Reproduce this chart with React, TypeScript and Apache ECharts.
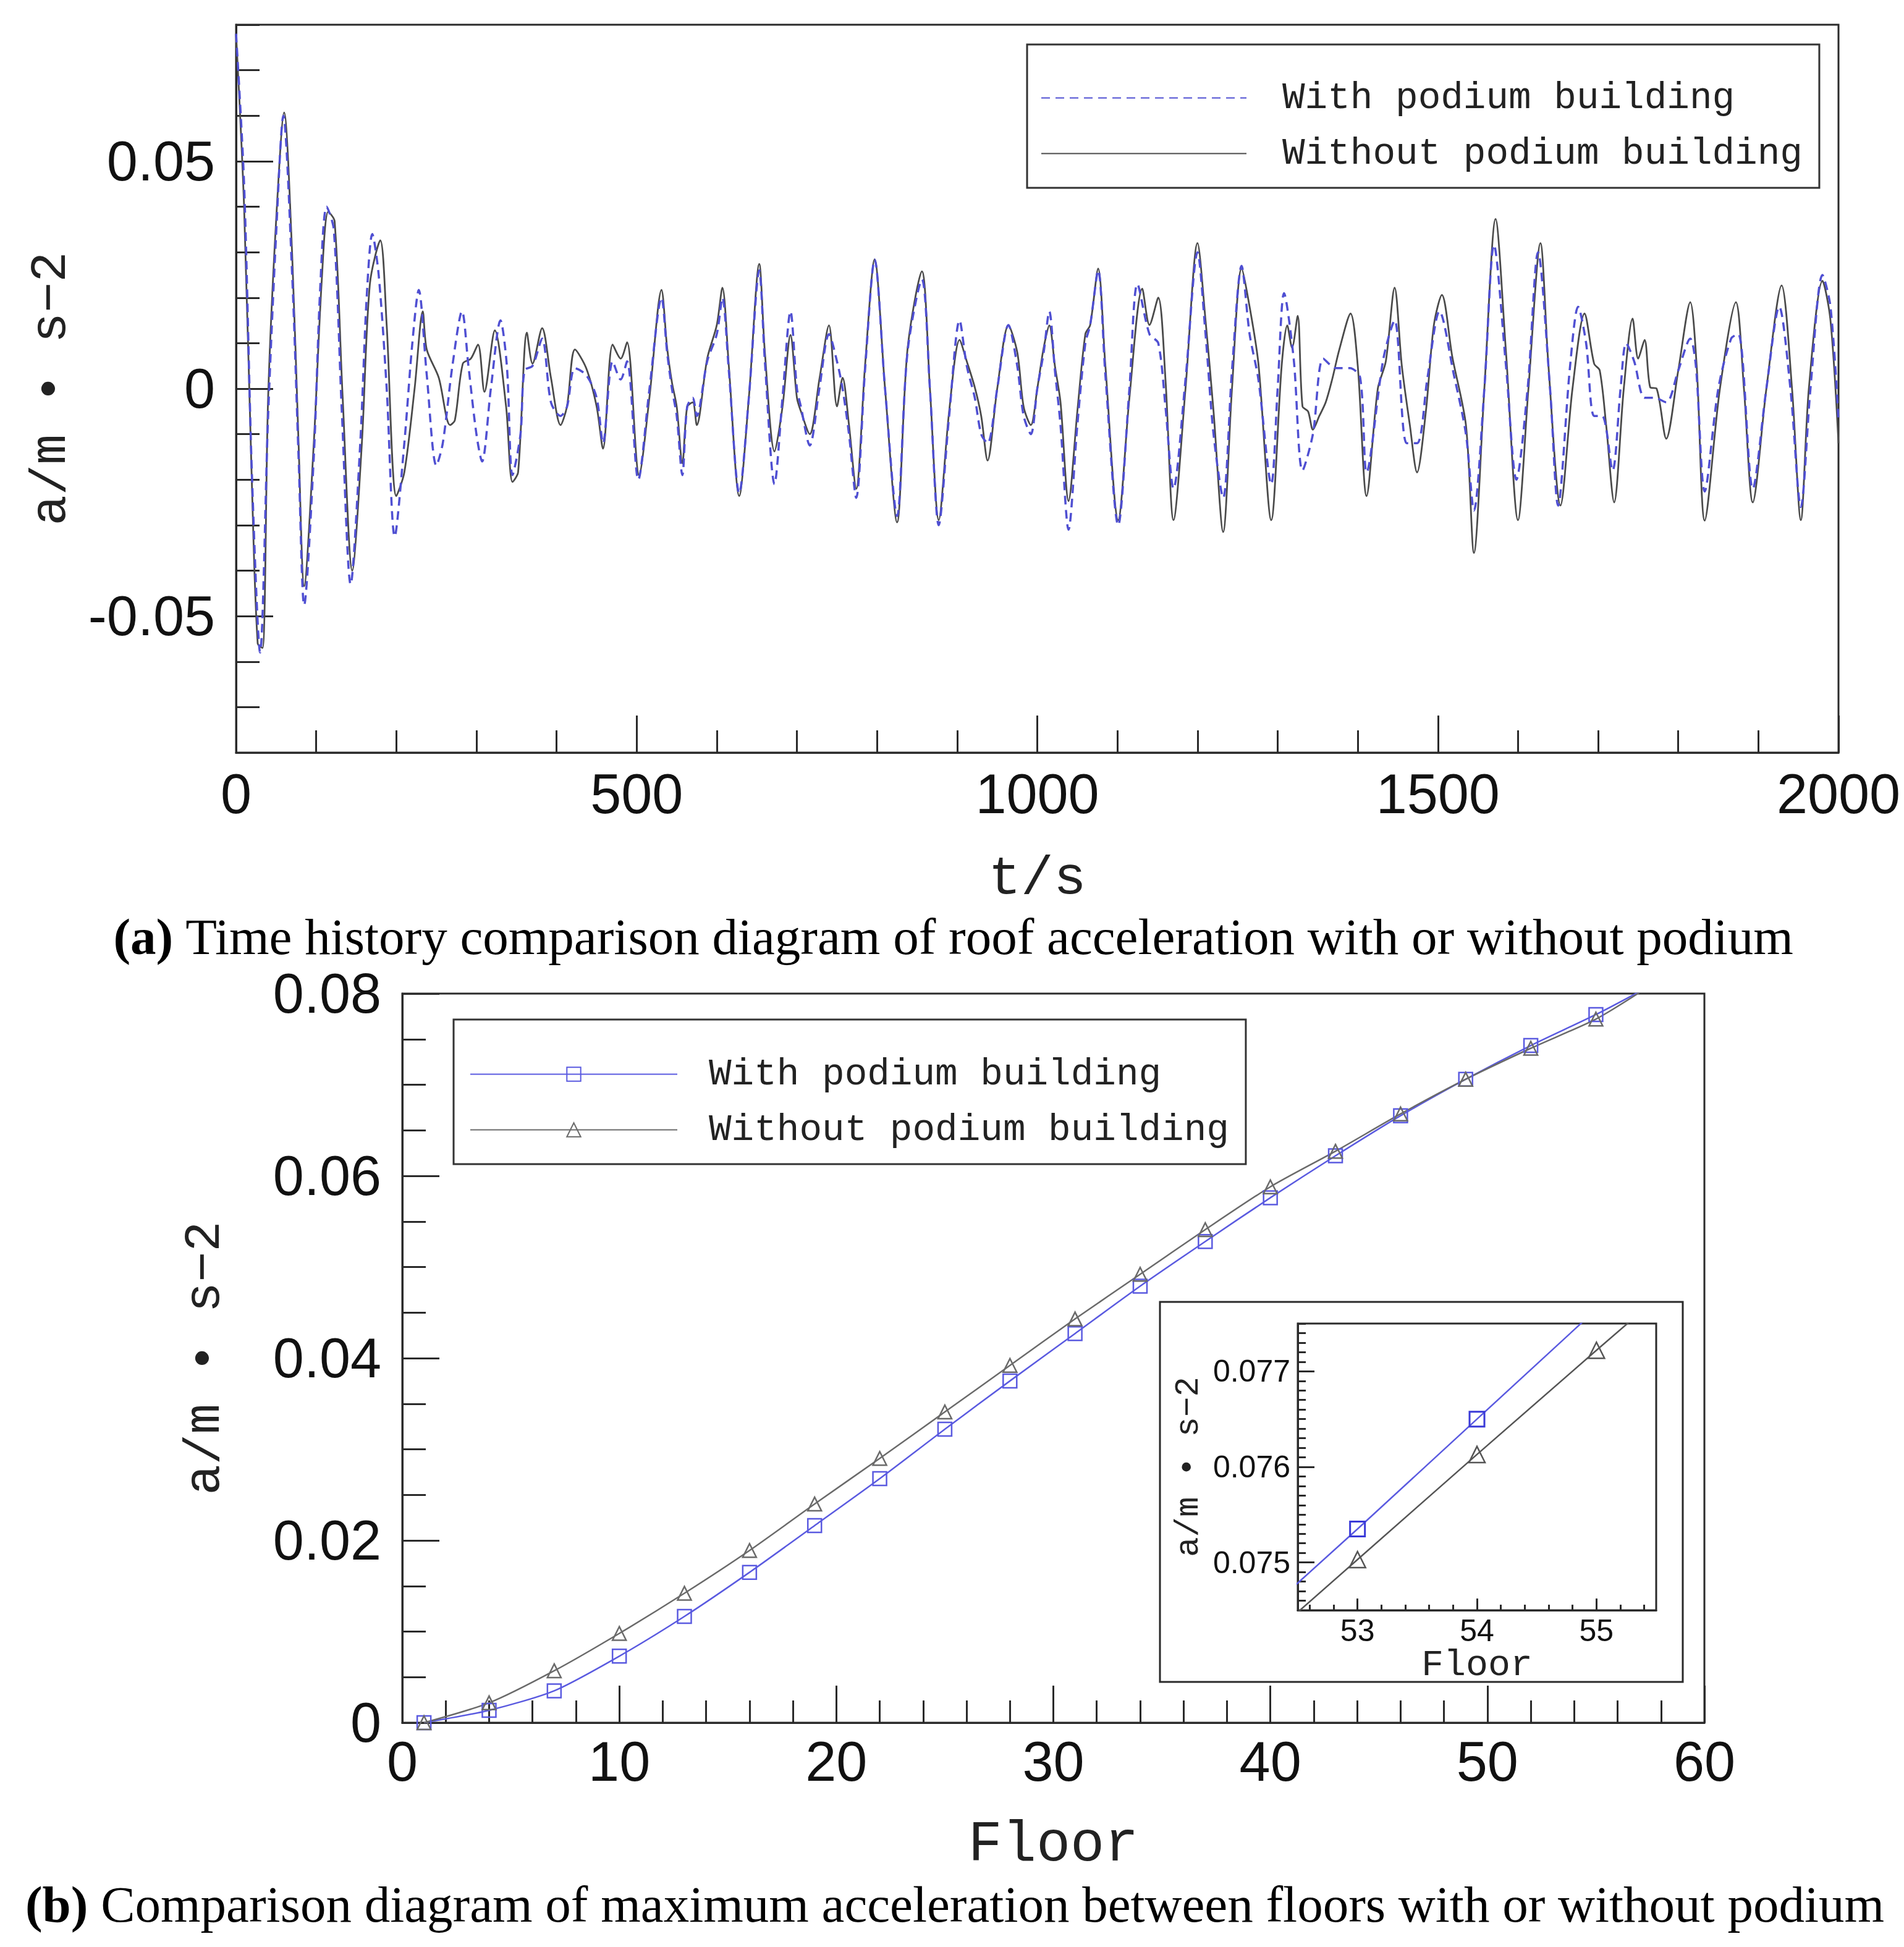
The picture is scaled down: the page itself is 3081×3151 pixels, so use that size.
import React, { useEffect, useRef } from 'react';
import * as echarts from 'echarts';

// ---------- (a) roof acceleration time history: [t (s), a (m/s^2)] ----------
const withoutPodiumHistory: [number, number][] = [
  [0, 0.078], [10, 0.04], [20, -0.0226], [27, -0.056], [33, -0.057], [40, -0.002], [50, 0.037], [60, 0.0607],
  [70, 0.0295], [78, -0.012], [85, -0.0434], [97, -0.012], [107, 0.024], [115, 0.0389], [123, 0.0368], [133, -0.0018],
  [145, -0.04], [157, -0.012], [167, 0.023], [180, 0.0326], [188, 0.0139], [200, -0.0236], [210, -0.0184], [223, 0.0003],
  [233, 0.017], [238, 0.0086], [253, 0.0024], [267, -0.008], [273, -0.007], [283, 0.0055], [293, 0.0066], [302, 0.0097],
  [310, -0.0007], [323, 0.0128], [337, -0.0039], [345, -0.0205], [352, -0.0184], [363, 0.0123], [370, 0.0055], [382, 0.0133],
  [393, 0.0024], [405, -0.008], [413, -0.0039], [423, 0.0086], [437, 0.0045], [450, -0.0039], [458, -0.0132], [470, 0.0097],
  [480, 0.0066], [488, 0.0102], [503, -0.019], [516, -0.0018], [531, 0.0217], [538, 0.009], [544, 0.0014], [550, -0.004],
  [557, -0.0164], [563, -0.004], [570, -0.003], [575, -0.008], [588, 0.0066], [600, 0.014], [607, 0.0222], [615, 0.005],
  [628, -0.0236], [640, -0.002], [653, 0.0274], [660, 0.008], [672, -0.0138], [682, -0.004], [692, 0.0118], [700, -0.002],
  [705, -0.005], [716, -0.01], [728, 0.002], [740, 0.0139], [750, -0.0039], [757, 0.0024], [765, -0.008], [774, -0.022],
  [785, 0.005], [797, 0.0284], [810, 0.0], [825, -0.0294], [838, 0.0086], [856, 0.0258], [866, 0.0], [877, -0.0289],
  [890, -0.005], [903, 0.0107], [912, 0.006], [922, 0.0003], [930, -0.006], [938, -0.0158], [950, 0.0], [964, 0.0139],
  [975, 0.008], [983, -0.004], [992, -0.008], [1000, 0.0], [1008, 0.009], [1015, 0.0139], [1022, 0.005], [1029, -0.003],
  [1039, -0.0247], [1050, -0.005], [1060, 0.012], [1066, 0.014], [1076, 0.0264], [1085, 0.005], [1101, -0.0289], [1115, -0.002],
  [1131, 0.022], [1140, 0.014], [1151, 0.02], [1160, 0.002], [1170, -0.0289], [1185, 0.0], [1200, 0.032], [1210, 0.015],
  [1220, -0.005], [1232, -0.0315], [1243, 0.0], [1255, 0.0264], [1265, 0.018], [1276, 0.0055], [1292, -0.0289], [1305, 0.005],
  [1312, 0.0139], [1318, 0.009], [1325, 0.016], [1331, -0.0039], [1338, -0.005], [1344, -0.009], [1352, -0.006], [1360, -0.003],
  [1368, 0.002], [1377, 0.0086], [1391, 0.0165], [1400, 0.005], [1411, -0.0236], [1425, 0.0], [1435, 0.006], [1446, 0.0222],
  [1455, 0.005], [1465, -0.008], [1474, -0.0184], [1485, -0.005], [1495, 0.014], [1505, 0.0206], [1518, 0.007], [1535, -0.008],
  [1545, -0.0361], [1558, 0.0], [1572, 0.0373], [1585, 0.008], [1600, -0.0289], [1613, 0.0], [1628, 0.032], [1638, 0.005],
  [1653, -0.0257], [1668, 0.0], [1683, 0.0165], [1695, 0.0055], [1702, 0.004], [1710, -0.008], [1720, -0.025], [1732, 0.0],
  [1743, 0.0154], [1750, 0.0066], [1758, 0.0107], [1765, 0.0003], [1773, 0.0], [1785, -0.011], [1800, 0.004], [1815, 0.019],
  [1823, 0.005], [1833, -0.029], [1852, 0.0], [1872, 0.019], [1882, 0.0], [1893, -0.025], [1910, 0.0], [1929, 0.0227],
  [1942, 0.0], [1953, -0.0289], [1963, 0.0], [1980, 0.0237], [1990, 0.015], [2000, -0.012],
];

const withPodiumHistory: [number, number][] = [
  [0, 0.078], [10, 0.045], [20, -0.02], [30, -0.058], [40, -0.006], [50, 0.034], [59, 0.06], [70, 0.025],
  [78, -0.015], [85, -0.0476], [97, -0.015], [105, 0.022], [113, 0.04], [122, 0.035], [132, -0.005], [143, -0.043],
  [155, -0.012], [163, 0.02], [170, 0.034], [178, 0.025], [188, 0.0], [198, -0.0325], [210, -0.012], [220, 0.01],
  [228, 0.0217], [238, 0.003], [250, -0.0169], [258, -0.012], [270, 0.005], [282, 0.017], [290, 0.005], [300, -0.01],
  [307, -0.016], [318, 0.0], [330, 0.015], [338, 0.005], [345, -0.019], [355, -0.01], [360, 0.004], [370, 0.005],
  [382, 0.011], [393, -0.003], [405, -0.006], [413, -0.004], [423, 0.0045], [437, 0.003], [450, -0.002], [458, -0.012],
  [470, 0.006], [480, 0.002], [488, 0.006], [502, -0.02], [516, 0.0], [531, 0.02], [538, 0.008], [544, 0.0],
  [550, -0.006], [557, -0.019], [563, -0.004], [570, -0.002], [575, -0.006], [588, 0.006], [600, 0.012], [607, 0.02],
  [615, 0.004], [628, -0.023], [640, -0.002], [653, 0.026], [660, 0.006], [672, -0.021], [682, -0.002], [692, 0.017],
  [700, 0.0], [705, -0.004], [716, -0.0125], [728, 0.0], [740, 0.012], [750, 0.006], [757, 0.0], [765, -0.01],
  [774, -0.024], [785, 0.004], [797, 0.0284], [810, 0.0], [825, -0.028], [838, 0.008], [856, 0.024], [866, 0.0],
  [877, -0.03], [890, -0.006], [903, 0.015], [912, 0.005], [922, -0.002], [930, -0.01], [938, -0.012], [950, 0.0],
  [964, 0.014], [975, 0.005], [983, -0.006], [992, -0.01], [1000, 0.0], [1008, 0.008], [1015, 0.017], [1022, 0.004],
  [1029, -0.008], [1039, -0.031], [1050, -0.008], [1060, 0.01], [1066, 0.014], [1076, 0.026], [1085, 0.003], [1101, -0.03],
  [1115, 0.0], [1125, 0.023], [1140, 0.012], [1151, 0.01], [1160, -0.004], [1170, -0.022], [1185, 0.002], [1200, 0.03],
  [1210, 0.012], [1220, -0.01], [1232, -0.024], [1243, 0.004], [1255, 0.027], [1265, 0.012], [1276, 0.002], [1292, -0.021],
  [1300, 0.0], [1308, 0.021], [1320, 0.0066], [1331, -0.018], [1344, -0.01], [1357, 0.0066], [1373, 0.0045], [1390, 0.0045],
  [1403, 0.0024], [1411, -0.0184], [1432, 0.0066], [1446, 0.015], [1461, -0.012], [1474, -0.012], [1487, 0.0024], [1502, 0.017],
  [1520, 0.003], [1535, -0.01], [1545, -0.0268], [1558, 0.0], [1570, 0.0316], [1585, 0.005], [1598, -0.02], [1612, 0.0],
  [1625, 0.03], [1640, 0.0], [1650, -0.0257], [1665, 0.005], [1675, 0.018], [1685, 0.01], [1695, -0.006], [1705, -0.006],
  [1718, -0.018], [1728, 0.0], [1735, 0.01], [1745, 0.006], [1758, -0.002], [1770, -0.002], [1785, -0.003], [1800, 0.004],
  [1815, 0.011], [1822, 0.005], [1833, -0.0226], [1850, 0.0], [1866, 0.011], [1875, 0.012], [1893, -0.022], [1910, 0.0],
  [1926, 0.018], [1940, 0.0], [1953, -0.026], [1965, 0.0], [1980, 0.025], [1990, 0.018], [2000, -0.007],
];

// ---------- (b) maximum acceleration per floor ----------
const floors = [1, 4, 7, 10, 13, 16, 19, 22, 25, 28, 31, 34, 37, 40, 43, 46, 49, 52, 55];
const withPodiumMax = [0, 0.00136, 0.0035, 0.0073, 0.01166, 0.0165, 0.02163, 0.02678, 0.0322, 0.0375,
  0.0427, 0.0479, 0.0528, 0.0576, 0.0622, 0.0666, 0.0706, 0.0743, 0.0777];
const withoutPodiumMax = [0, 0.00218, 0.0057, 0.0098, 0.0142, 0.0189, 0.024, 0.029, 0.0341, 0.0392,
  0.0443, 0.0492, 0.0541, 0.0588, 0.0627, 0.0668, 0.0706, 0.0740, 0.0772];
const lineEndFloor = 57;
const withPodiumEnd = 0.0802;
const withoutPodiumEnd = 0.0801;

// inset (zoom of the top floors)
const insetFloors = [52, 53, 54, 55, 56];
const insetWith = [0.07422, 0.07535, 0.0765, 0.07765, 0.0788];
const insetWithout = [0.07393, 0.07503, 0.07613, 0.07722, 0.0783];

const topYLabels = [-0.05, 0, 0.05];
const insetYLabels = [0.075, 0.076, 0.077];
const insetXLabels = [53, 54, 55];

const NAME_WITH = 'With podium building';
const NAME_WITHOUT = 'Without podium building';
const BLUE = '#4f4fd2';
const BLUE_B = '#5a5ae0';
const GRAY = '#4a4a4a';
const GRAY_B = '#6a6a6a';
const AXIS = '#2a2a2a';
const SANS = 'Liberation Sans';
const MONO = 'Liberation Mono';
const SERIF = 'Liberation Serif';

const App: React.FC = () => {
  const ref = useRef<HTMLDivElement>(null);

  useEffect(() => {
    if (!ref.current) return;
    document.body.style.margin = '0';
    const chart = echarts.init(ref.current, undefined, { renderer: 'svg' });

    const insetMinorX: number[] = [];
    for (let k = 0; k < 15; k++) insetMinorX.push(Math.round((52.6 + 0.2 * k) * 10) / 10);

    const near = (v: number, list: number[], tol: number) => list.some((x) => Math.abs(x - v) < tol);

    const bottomWith = floors.map((f, i) => [f, withPodiumMax[i]] as any);
    bottomWith.push({ value: [lineEndFloor, withPodiumEnd], symbol: 'none' });
    const bottomWithout = floors.map((f, i) => [f, withoutPodiumMax[i]] as any);
    bottomWithout.push({ value: [lineEndFloor, withoutPodiumEnd], symbol: 'none' });

    const tickLabel = { fontFamily: SANS, fontSize: 90, color: '#111' };
    const axisLine = { show: true, onZero: false, lineStyle: { color: AXIS, width: 3 } };
    const noLine = { show: false, onZero: false };
    const hidden = { color: 'rgba(0,0,0,0)', borderWidth: 0 };

    const option: any = {
      animation: false,
      backgroundColor: '#fff',
      grid: [
        { left: 382, top: 40, width: 2593, height: 1178, show: true, borderColor: AXIS, borderWidth: 3, backgroundColor: '#fff' },
        { left: 651, top: 1608, width: 2107, height: 1180, show: true, borderColor: AXIS, borderWidth: 3, backgroundColor: '#fff' },
        { left: 2100, top: 2142, width: 580, height: 464, show: true, borderColor: AXIS, borderWidth: 3, backgroundColor: '#fff', z: 60 },
      ],
      legend: [
        {
          data: [NAME_WITH, NAME_WITHOUT],
          orient: 'vertical', left: 1662, top: 72,
          padding: [56, 27, 25, 22], itemGap: 29, itemWidth: 332, itemHeight: 20,
          borderColor: '#333', borderWidth: 3, backgroundColor: '#fff',
          itemStyle: hidden,
          textStyle: { fontFamily: MONO, fontSize: 61, lineHeight: 61, color: '#222', padding: [0, 0, 0, 53] },
          selectedMode: false,
        },
        {
          data: ['b:' + NAME_WITH, 'b:' + NAME_WITHOUT],
          formatter: (n: string) => n.replace(/^b:/, ''),
          orient: 'vertical', left: 734, top: 1650,
          padding: [58, 27, 25, 26], itemGap: 29, itemWidth: 335, itemHeight: 28,
          borderColor: '#333', borderWidth: 3, backgroundColor: '#fff',
          textStyle: { fontFamily: MONO, fontSize: 61, lineHeight: 61, color: '#222', padding: [0, 0, 0, 46] },
          selectedMode: false,
        },
      ],
      xAxis: [
        {
          type: 'value', gridIndex: 0, min: 0, max: 2000, interval: 500, position: 'bottom',
          axisLine, splitLine: { show: false },
          axisTick: { show: true, inside: true, length: 60, lineStyle: { color: AXIS, width: 3 } },
          minorTick: { show: true, splitNumber: 5, length: 36, lineStyle: { color: AXIS, width: 3 } },
          axisLabel: { ...tickLabel, margin: 22, formatter: (v: number) => String(v) },
          name: 't/s', nameLocation: 'middle', nameGap: 160,
          nameTextStyle: { fontFamily: MONO, fontSize: 88, color: '#222' },
        },
        {
          type: 'value', gridIndex: 1, min: 0, max: 60, interval: 10, position: 'bottom',
          axisLine, splitLine: { show: false },
          axisTick: { show: true, inside: true, length: 60, lineStyle: { color: AXIS, width: 3 } },
          minorTick: { show: true, splitNumber: 5, length: 36, lineStyle: { color: AXIS, width: 3 } },
          axisLabel: { ...tickLabel, margin: 18, formatter: (v: number) => String(v) },
          name: 'Floor', nameLocation: 'middle', nameGap: 152,
          nameTextStyle: { fontFamily: MONO, fontSize: 92, color: '#222' },
        },
        {
          type: 'value', gridIndex: 2, min: 52.5, max: 55.5, z: 61, position: 'bottom',
          axisLine, splitLine: { show: false },
          axisTick: { show: true, inside: true, length: 19, customValues: insetXLabels, lineStyle: { color: AXIS, width: 3 } },
          axisLabel: { fontFamily: SANS, fontSize: 50, color: '#111', margin: 8, customValues: insetXLabels },
          name: 'Floor', nameLocation: 'middle', nameGap: 52,
          nameTextStyle: { fontFamily: MONO, fontSize: 60, color: '#222' },
        },
        {
          type: 'value', gridIndex: 2, min: 52.5, max: 55.5, z: 61, position: 'bottom',
          axisLine: noLine, splitLine: { show: false },
          axisTick: { show: true, inside: true, length: 9, customValues: insetMinorX, lineStyle: { color: AXIS, width: 3 } },
          axisLabel: { show: false },
        },
      ],
      yAxis: [
        {
          type: 'value', gridIndex: 0, min: -0.08, max: 0.08, interval: 0.01, position: 'left',
          axisLine, splitLine: { show: false },
          axisTick: { show: true, inside: true, length: 38, lineStyle: { color: AXIS, width: 3 } },
          axisLabel: {
            ...tickLabel, margin: 34,
            formatter: (v: number) => (near(v, topYLabels, 1e-6) ? (Math.abs(v) < 1e-9 ? '0' : v.toFixed(2)) : ''),
          },
          name: 'a/m • s−2', nameLocation: 'middle', nameGap: 258,
          nameTextStyle: { fontFamily: MONO, fontSize: 82, color: '#222' },
        },
        {
          type: 'value', gridIndex: 0, min: -0.08, max: 0.08, position: 'left',
          axisLine: noLine, splitLine: { show: false },
          axisTick: { show: true, inside: true, length: 60, customValues: topYLabels, lineStyle: { color: AXIS, width: 3 } },
          axisLabel: { show: false },
        },
        {
          type: 'value', gridIndex: 1, min: 0, max: 0.08, interval: 0.02, position: 'left',
          axisLine, splitLine: { show: false },
          axisTick: { show: true, inside: true, length: 60, lineStyle: { color: AXIS, width: 3 } },
          minorTick: { show: true, splitNumber: 4, length: 38, lineStyle: { color: AXIS, width: 3 } },
          axisLabel: { ...tickLabel, margin: 34, formatter: (v: number) => (Math.abs(v) < 1e-9 ? '0' : v.toFixed(2)) },
          name: 'a/m • s−2', nameLocation: 'middle', nameGap: 278,
          nameTextStyle: { fontFamily: MONO, fontSize: 82, color: '#222' },
        },
        {
          type: 'value', gridIndex: 2, min: 0.0745, max: 0.0775, interval: 0.0001, z: 61, position: 'left',
          axisLine, splitLine: { show: false },
          axisTick: { show: true, inside: true, length: 13, lineStyle: { color: AXIS, width: 3 } },
          axisLabel: {
            fontFamily: SANS, fontSize: 50, color: '#111', margin: 12,
            formatter: (v: number) => (near(v, insetYLabels, 1e-7) ? v.toFixed(3) : ''),
          },
          name: 'a/m • s−2', nameLocation: 'middle', nameGap: 150,
          nameTextStyle: { fontFamily: MONO, fontSize: 54, color: '#222' },
        },
        {
          type: 'value', gridIndex: 2, min: 0.0745, max: 0.0775, z: 61, position: 'left',
          axisLine: noLine, splitLine: { show: false },
          axisTick: { show: true, inside: true, length: 27, customValues: insetYLabels, lineStyle: { color: AXIS, width: 3 } },
          axisLabel: { show: false },
        },
      ],
      series: [
        {
          name: NAME_WITHOUT, type: 'line', xAxisIndex: 0, yAxisIndex: 0, data: withoutPodiumHistory,
          symbol: 'none', smooth: 0.3, lineStyle: { color: GRAY, width: 2.8 }, itemStyle: { color: GRAY },
        },
        {
          name: NAME_WITH, type: 'line', xAxisIndex: 0, yAxisIndex: 0, data: withPodiumHistory,
          symbol: 'none', smooth: 0.3, lineStyle: { color: BLUE, width: 3.5, type: [14, 9] }, itemStyle: { color: BLUE },
        },
        {
          name: 'b:' + NAME_WITH, type: 'line', xAxisIndex: 1, yAxisIndex: 2, data: bottomWith,
          smooth: 0.25, symbol: 'rect', symbolSize: 22,
          lineStyle: { color: BLUE_B, width: 2.5 },
          itemStyle: { color: 'rgba(255,255,255,0)', borderColor: BLUE_B, borderWidth: 2.5 },
        },
        {
          name: 'b:' + NAME_WITHOUT, type: 'line', xAxisIndex: 1, yAxisIndex: 2, data: bottomWithout,
          smooth: 0.25, symbol: 'triangle', symbolSize: 22,
          lineStyle: { color: GRAY_B, width: 2.5 },
          itemStyle: { color: 'rgba(255,255,255,0)', borderColor: GRAY_B, borderWidth: 2.5 },
        },
        {
          name: 'inset with', type: 'line', xAxisIndex: 2, yAxisIndex: 3, z: 62,
          data: insetFloors.map((f, i) => [f, insetWith[i]]),
          symbol: 'rect', symbolSize: 24, clip: true,
          lineStyle: { color: BLUE_B, width: 2.5 },
          itemStyle: { color: 'rgba(255,255,255,0)', borderColor: '#3a3ad8', borderWidth: 3 },
        },
        {
          name: 'inset without', type: 'line', xAxisIndex: 2, yAxisIndex: 3, z: 62,
          data: insetFloors.map((f, i) => [f, insetWithout[i]]),
          symbol: 'triangle', symbolSize: 26, clip: true,
          lineStyle: { color: '#555', width: 2.5 },
          itemStyle: { color: 'rgba(255,255,255,0)', borderColor: '#555', borderWidth: 2.5 },
        },
      ],
      graphic: [
        {
          type: 'rect', z: 50, shape: { x: 1877, y: 2107, width: 846, height: 615 },
          style: { fill: '#fff', stroke: AXIS, lineWidth: 3 },
        },
        {
          type: 'text', x: 1543, y: 1516, z: 5,
          style: {
            text: '{b|(a)} Time history comparison diagram of roof acceleration with or without podium',
            fontFamily: SERIF, fontSize: 83, lineHeight: 76, fill: '#000',
            align: 'center', verticalAlign: 'middle', textAlign: 'center', textVerticalAlign: 'middle',
            rich: { b: { fontFamily: SERIF, fontSize: 83, lineHeight: 76, fontWeight: 'bold', fill: '#000' } },
          },
        },
        {
          type: 'text', x: 1545, y: 3082, z: 5,
          style: {
            text: '{b|(b)} Comparison diagram of maximum acceleration between floors with or without podium',
            fontFamily: SERIF, fontSize: 83, lineHeight: 76, fill: '#000',
            align: 'center', verticalAlign: 'middle', textAlign: 'center', textVerticalAlign: 'middle',
            rich: { b: { fontFamily: SERIF, fontSize: 83, lineHeight: 76, fontWeight: 'bold', fill: '#000' } },
          },
        },
      ],
    };

    chart.setOption(option);
    return () => chart.dispose();
  }, []);

  return <div ref={ref} style={{ position: 'absolute', left: 0, top: 0, width: 3081, height: 3151, background: '#fff' }} />;
};

export default App;
